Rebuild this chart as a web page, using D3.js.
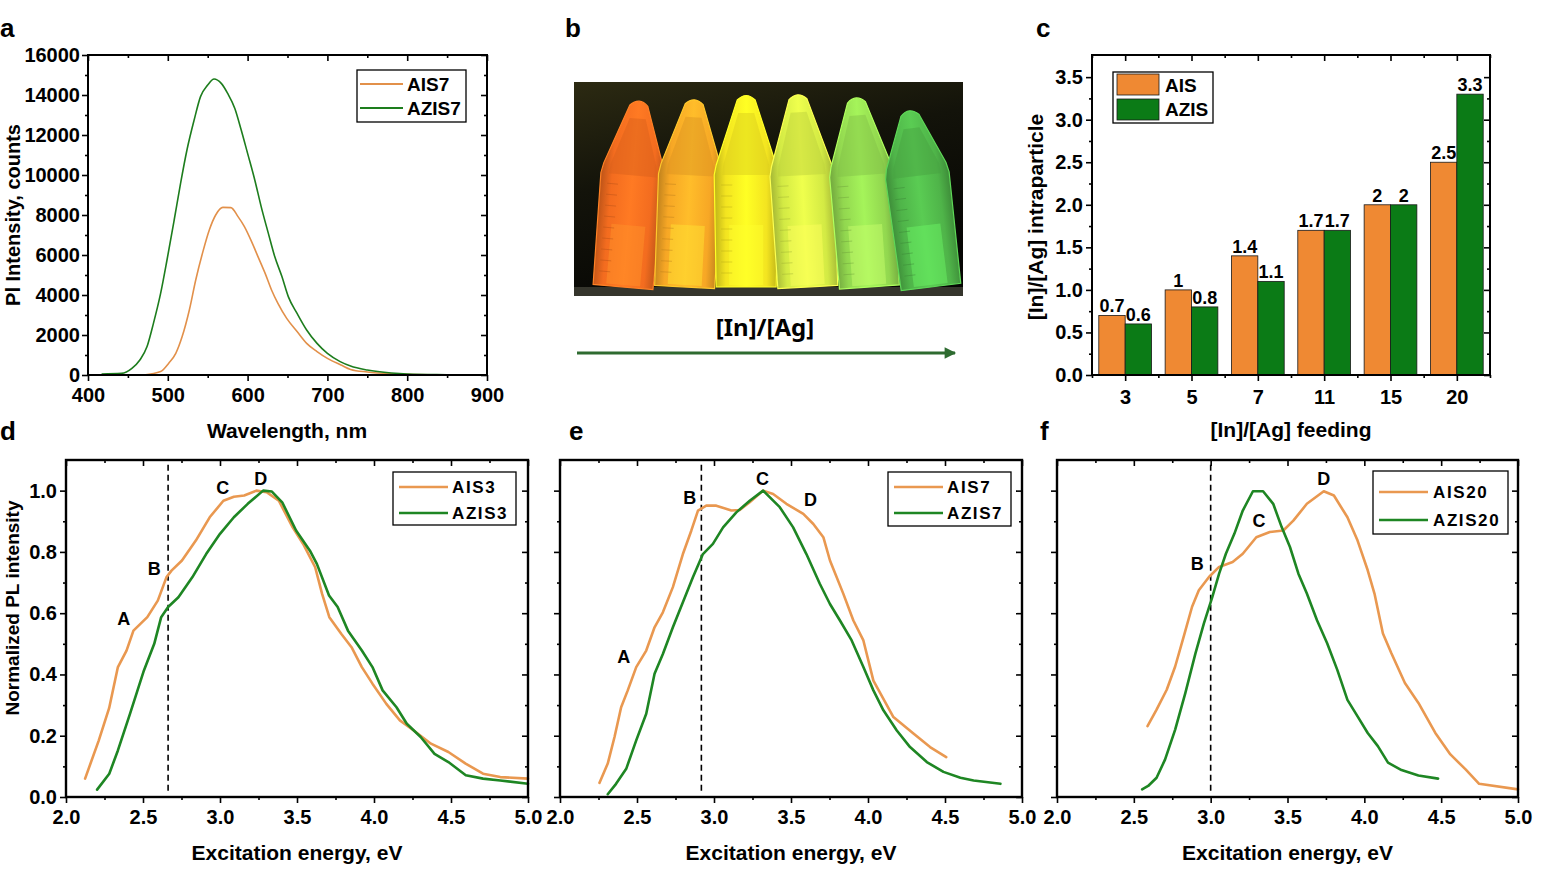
<!DOCTYPE html>
<html><head><meta charset="utf-8">
<script src="https://cdn.jsdelivr.net/npm/d3@7/dist/d3.min.js"></script>
<style>
html,body{margin:0;padding:0;background:#fff;}
svg text{font-family:"Liberation Sans",Arial,Helvetica,sans-serif;font-weight:bold;fill:#000;}
</style></head><body>
<svg id="fig" width="1559" height="878" viewBox="0 0 1559 878"></svg>
<script>
// ================= DATA =================
// (a) PL spectra, wavelength (nm) vs counts
const plWlAIS7  = [470,491,501,510,518,527,535,544,552,560,569,579,588,596,605,613,622,630,638,649,662,674,687,700,717,729,750,780,800,850,880];
const plAIS7    = [0,170,580,1080,1920,3250,4750,6170,7250,8000,8380,8370,7920,7420,6670,5920,5080,4250,3580,2830,2170,1580,1170,830,500,280,150,60,30,5,0];
const plWlAZIS7 = [417,442,455,465,474,482,491,499,508,516,524,533,541,550,558,567,575,584,592,600,609,617,626,634,643,651,662,674,687,700,716,729,750,780,800,850,880];
const plAZIS7   = [50,80,330,750,1420,2580,4080,5750,7750,9580,11250,12750,13920,14500,14800,14580,14080,13330,12250,11080,9750,8420,7080,5920,4920,3920,3080,2250,1580,1080,670,450,250,100,50,15,0];
const plXTicks = [400,500,600,700,800,900];
const plYTicks = [0,2000,4000,6000,8000,10000,12000,14000,16000];

// (b) vial photo
const vialColors = ['#F36C1F','#F7A725','#F3E420','#D3EA44','#92D74F','#4FB449'];

// (c) [In]/[Ag] intraparticle vs feeding
const feedRatios = ['3','5','7','11','15','20'];
const intraAIS   = [0.7,1,1.4,1.7,2,2.5];
const intraAZIS  = [0.6,0.8,1.1,1.7,2,3.3];
const intraYTicks = [0,0.5,1,1.5,2,2.5,3,3.5];

// (d) AIS3 / AZIS3 excitation spectra
const exD_AIS3_x  = [2.124,2.213,2.28,2.337,2.393,2.438,2.528,2.596,2.652,2.685,2.753,2.843,2.933,3.022,3.09,3.157,3.236,3.303,3.382,3.472,3.54,3.618,3.663,3.71,3.787,3.854,3.921,3.99,4.08,4.168,4.258,4.37,4.483,4.595,4.708,4.82,5.0];
const exD_AIS3_y  = [0.06,0.185,0.29,0.424,0.478,0.543,0.587,0.641,0.717,0.739,0.772,0.837,0.913,0.967,0.98,0.984,1.0,0.995,0.967,0.88,0.826,0.75,0.663,0.587,0.533,0.489,0.424,0.37,0.304,0.25,0.217,0.174,0.147,0.109,0.076,0.065,0.06];
const exD_AZIS3_x = [2.202,2.281,2.337,2.416,2.506,2.573,2.618,2.663,2.73,2.82,2.91,3.0,3.09,3.18,3.28,3.337,3.404,3.494,3.584,3.629,3.708,3.764,3.831,3.921,3.99,4.056,4.146,4.213,4.303,4.393,4.483,4.596,4.708,4.82,5.0];
const exD_AZIS3_y = [0.024,0.076,0.152,0.272,0.413,0.5,0.587,0.62,0.652,0.717,0.793,0.859,0.913,0.957,1.0,0.997,0.962,0.87,0.804,0.761,0.658,0.62,0.543,0.478,0.424,0.348,0.293,0.239,0.196,0.141,0.114,0.071,0.06,0.054,0.043];
const exD_marks = [['A',2.375,0.582],['B',2.573,0.745],['C',3.018,1.011],['D',3.265,1.038]];
const exD_dash = 2.663;

// (e) AIS7 / AZIS7
const exE_AIS7_x  = [2.256,2.31,2.354,2.397,2.44,2.495,2.56,2.614,2.668,2.733,2.798,2.853,2.896,2.95,3.015,3.113,3.167,3.232,3.319,3.384,3.47,3.58,3.645,3.71,3.753,3.84,3.905,3.97,4.035,4.165,4.295,4.403,4.508];
const exE_AIS7_y  = [0.046,0.109,0.196,0.293,0.348,0.424,0.478,0.554,0.603,0.685,0.793,0.87,0.935,0.951,0.951,0.935,0.937,0.962,1.0,0.989,0.957,0.924,0.891,0.848,0.772,0.663,0.576,0.511,0.38,0.261,0.207,0.163,0.13];
const exE_AZIS7_x = [2.31,2.364,2.43,2.495,2.56,2.614,2.668,2.733,2.798,2.863,2.928,2.993,3.059,3.145,3.232,3.319,3.427,3.514,3.6,3.687,3.753,3.818,3.894,3.97,4.035,4.1,4.187,4.273,4.382,4.49,4.6,4.686,4.86];
const exE_AZIS7_y = [0.009,0.043,0.092,0.185,0.272,0.402,0.467,0.554,0.636,0.717,0.793,0.826,0.88,0.929,0.967,1.0,0.946,0.88,0.793,0.696,0.63,0.576,0.511,0.424,0.348,0.283,0.217,0.163,0.114,0.082,0.063,0.054,0.043];
const exE_marks = [['A',2.414,0.459],['B',2.842,0.976],['C',3.315,1.038],['D',3.627,0.97]];
const exE_dash = 2.918;

// (f) AIS20 / AZIS20
const exF_AIS20_x  = [2.589,2.648,2.714,2.769,2.824,2.879,2.923,2.989,3.055,3.143,3.209,3.297,3.385,3.473,3.538,3.626,3.736,3.802,3.89,3.956,4.022,4.066,4.121,4.176,4.264,4.352,4.462,4.56,4.659,4.747,5.0];
const exF_AIS20_y  = [0.231,0.285,0.35,0.426,0.523,0.621,0.675,0.718,0.751,0.767,0.794,0.848,0.865,0.87,0.902,0.957,0.998,0.984,0.913,0.837,0.74,0.664,0.534,0.469,0.372,0.307,0.209,0.139,0.09,0.043,0.025];
const exF_AZIS20_x = [2.554,2.593,2.648,2.703,2.769,2.835,2.901,2.956,3.011,3.055,3.099,3.154,3.209,3.275,3.341,3.407,3.462,3.516,3.571,3.626,3.692,3.758,3.824,3.89,3.956,4.022,4.088,4.154,4.242,4.352,4.48];
const exF_AZIS20_y = [0.025,0.036,0.063,0.122,0.22,0.339,0.469,0.567,0.653,0.729,0.794,0.859,0.935,0.998,0.998,0.957,0.881,0.816,0.729,0.664,0.577,0.502,0.415,0.317,0.263,0.209,0.166,0.112,0.088,0.07,0.06];
const exF_marks = [['B',2.912,0.762],['C',3.314,0.902],['D',3.736,1.038]];
const exF_dash = 3.0;

const exXTicks = [2,2.5,3,3.5,4,4.5,5];
const exYTicks = [0,0.2,0.4,0.6,0.8,1.0];

// ================= DRAW =================
const svg = d3.select('#fig');
const defs = svg.append('defs');
const ORANGE_A = '#E2904A', GREEN_A = '#1D7D1D';
const ORANGE = '#E99850', GREEN = '#1E8623';
const BAR_OR = '#EF8933', BAR_GR = '#0B7B16';
const TICK_FS = 20, TITLE_FS = 21;
const zip = (xs, ys) => xs.map((v, i) => [v, ys[i]]);
const midpoints = t => t.slice(0, -1).map((v, i) => (v + t[i + 1]) / 2);

function styleAxis(g, fs) {
  g.selectAll('.domain').remove();
  g.selectAll('.tick line').attr('stroke', '#000').attr('stroke-width', 1.6);
  g.selectAll('.tick text').style('font-size', fs + 'px').attr('fill', '#000');
}

function drawFrameAxes(x, y, o) {
  const [xl, xr] = x.range(), [yb, yt] = y.range();
  const g = svg.append('g');
  const add = (tr, ax) => styleAxis(g.append('g').attr('transform', tr).call(ax), TICK_FS);
  add(`translate(0,${yb})`, d3.axisBottom(x).tickValues(o.xMajor).tickSize(6).tickPadding(7).tickFormat(o.xFmt));
  add(`translate(0,${yb})`, d3.axisBottom(x).tickValues(o.xMinor).tickSize(3).tickFormat(''));
  add(`translate(0,${yt})`, d3.axisTop(x).tickValues(o.xMajor).tickSize(-6).tickFormat(''));
  add(`translate(0,${yt})`, d3.axisTop(x).tickValues(o.xMinor).tickSize(-3).tickFormat(''));
  add(`translate(${xl},0)`, d3.axisLeft(y).tickValues(o.yMajor).tickSize(6).tickPadding(o.yPad || 3).tickFormat(o.yFmt || ''));
  add(`translate(${xl},0)`, d3.axisLeft(y).tickValues(o.yMinor).tickSize(3).tickFormat(''));
  add(`translate(${xr},0)`, d3.axisRight(y).tickValues(o.yMajor).tickSize(-6).tickFormat(''));
  add(`translate(${xr},0)`, d3.axisRight(y).tickValues(o.yMinor).tickSize(-3).tickFormat(''));
  g.append('rect').attr('x', xl).attr('y', yt).attr('width', xr - xl).attr('height', yb - yt)
    .attr('fill', 'none').attr('stroke', '#000').attr('stroke-width', o.frameW || 2.2);
  return g;
}

function legend(x0, y0, w, h, items, o) {
  const g = svg.append('g');
  g.append('rect').attr('x', x0).attr('y', y0).attr('width', w).attr('height', h)
    .attr('fill', '#fff').attr('stroke', '#000').attr('stroke-width', 1.3);
  items.forEach((it, i) => {
    const yy = o.rows[i];
    g.append('line').attr('x1', o.lx1).attr('x2', o.lx2).attr('y1', yy).attr('y2', yy)
      .attr('stroke', it.color).attr('stroke-width', o.lw);
    g.append('text').attr('x', o.tx).attr('y', yy + o.fs * 0.36).style('font-size', o.fs + 'px')
      .style('letter-spacing', (o.ls || 0) + 'px').text(it.name);
  });
}

function panelLabel(t, x, y) {
  svg.append('text').attr('x', x).attr('y', y).style('font-size', '26px').text(t);
}

// ---------- (a) ----------
{
  const x = d3.scaleLinear().domain([400, 900]).range([88, 487]);
  const y = d3.scaleLinear().domain([0, 16000]).range([375, 55]);
  const line = d3.line().x(d => x(d[0])).y(d => y(d[1])).curve(d3.curveMonotoneX);
  svg.append('path').datum(zip(plWlAIS7, plAIS7)).attr('d', line)
    .attr('fill', 'none').attr('stroke', ORANGE_A).attr('stroke-width', 1.6);
  svg.append('path').datum(zip(plWlAZIS7, plAZIS7)).attr('d', line)
    .attr('fill', 'none').attr('stroke', GREEN_A).attr('stroke-width', 1.6);
  drawFrameAxes(x, y, {
    xMajor: plXTicks, xMinor: midpoints(plXTicks), xFmt: d3.format('d'),
    yMajor: plYTicks, yMinor: midpoints(plYTicks), yFmt: d3.format('d'), yPad: 2, frameW: 2
  });
  legend(357, 70, 109, 52, [{name: 'AIS7', color: ORANGE_A}, {name: 'AZIS7', color: GREEN_A}],
    {rows: [84, 108], lx1: 360, lx2: 403, tx: 407, fs: 19, lw: 1.8});
  svg.append('text').attr('x', 287).attr('y', 438).attr('text-anchor', 'middle').style('font-size', TITLE_FS + 'px').text('Wavelength, nm');
  svg.append('text').attr('transform', 'translate(20,215) rotate(-90)').attr('text-anchor', 'middle').style('font-size', '20px').text('Pl Intensity, counts');
  panelLabel('a', 0, 37);
}

// ---------- (b) photo ----------
{
  const px0 = 574, px1 = 963, py0 = 82, py1 = 296, shelf = 287;
  const bg = defs.append('linearGradient').attr('id', 'photoBg').attr('x1', 0).attr('y1', 0).attr('x2', 0.4).attr('y2', 1);
  bg.append('stop').attr('offset', 0).attr('stop-color', '#2c2a12');
  bg.append('stop').attr('offset', 0.45).attr('stop-color', '#13130a');
  bg.append('stop').attr('offset', 1).attr('stop-color', '#060604');
  defs.append('clipPath').attr('id', 'photoClip').append('rect')
    .attr('x', px0).attr('y', py0).attr('width', px1 - px0).attr('height', py1 - py0);
  const photo = svg.append('g').attr('clip-path', 'url(#photoClip)');
  photo.append('rect').attr('x', px0).attr('y', py0).attr('width', px1 - px0).attr('height', py1 - py0).attr('fill', 'url(#photoBg)');
  photo.append('rect').attr('x', px0).attr('y', shelf).attr('width', px1 - px0).attr('height', py1 - shelf).attr('fill', '#35352c');
  const vx = d3.scalePoint().domain(d3.range(vialColors.length)).range([623, 931]);
  const tilt = [5, 3, 0, -3, -4, -7];
  const hts = [189, 190, 194, 195, 192, 180];
  vialColors.forEach((c, i) => {
    const gid = 'vial' + i;
    const gr = defs.append('linearGradient').attr('id', gid).attr('x1', 0).attr('x2', 1).attr('y1', 0).attr('y2', 0);
    const col = d3.color(c);
    [[0, col.darker(0.7)], [0.18, col], [0.5, col.brighter(0.35)], [0.82, col], [1, col.darker(0.7)]]
      .forEach(([o, s]) => gr.append('stop').attr('offset', o).attr('stop-color', s.formatHex()));
    const h = hts[i];
    const g = photo.append('g').attr('transform', `translate(${vx(i)},${shelf}) rotate(${tilt[i]})`);
    const p = `M-30,0 L-32,-112 L-30,-122 L-9,${-(h - 7)} Q0,${-(h + 2)} 9,${-(h - 7)} L30,-122 L32,-112 L30,0 Z`;
    g.append('path').attr('d', p).attr('fill', `url(#${gid})`).attr('stroke', col.brighter(0.5).formatHex()).attr('stroke-width', 1.2);
    g.append('path').attr('d', `M-24,-112 L-23,-122 L-8,${-(h - 20)} L8,${-(h - 20)} L23,-122 L24,-112 Z`)
      .attr('fill', col.darker(0.35).formatHex()).attr('opacity', 0.45);
    g.append('rect').attr('x', -17).attr('y', -62).attr('width', 34).attr('height', 60)
      .attr('fill', col.brighter(0.9).formatHex()).attr('opacity', 0.45);
    d3.range(9).forEach(k => {
      g.append('line').attr('x1', -25).attr('x2', -14).attr('y1', -14 - k * 11).attr('y2', -14 - k * 11)
        .attr('stroke', col.darker(0.8).formatHex()).attr('stroke-width', 0.8).attr('opacity', 0.55);
    });
  });
  defs.append('marker').attr('id', 'arrowHead').attr('viewBox', '0 0 10 10').attr('refX', 9).attr('refY', 5)
    .attr('markerWidth', 4).attr('markerHeight', 3.6).attr('markerUnits', 'strokeWidth').attr('orient', 'auto')
    .append('path').attr('d', 'M0,0 L10,5 L0,10 Z').attr('fill', '#2E6B30');
  svg.append('line').attr('x1', 577).attr('x2', 955).attr('y1', 353).attr('y2', 353)
    .attr('stroke', '#2E6B30').attr('stroke-width', 3.2).attr('marker-end', 'url(#arrowHead)');
  svg.append('text').attr('x', 765).attr('y', 336).attr('text-anchor', 'middle')
    .style('font-family', '"Noto Sans", "Open Sans", sans-serif').style('font-weight', '700').style('font-size', '24px').text('[In]/[Ag]');
  panelLabel('b', 565, 37);
}

// ---------- (c) bars ----------
{
  const x = d3.scaleBand().domain(feedRatios).range([1092, 1490]).padding(0);
  const y = d3.scaleLinear().domain([0, 3.76]).range([375, 55]);
  const bw = x.bandwidth(), gw = bw * 0.795, barW = gw / 2;
  const series = [{vals: intraAIS, color: BAR_OR, off: 0}, {vals: intraAZIS, color: BAR_GR, off: 1}];
  series.forEach(s => {
    svg.append('g').selectAll('rect').data(feedRatios).join('rect')
      .attr('x', (d) => x(d) + (bw - gw) / 2 + s.off * barW)
      .attr('y', (d, i) => y(s.vals[i])).attr('width', barW)
      .attr('height', (d, i) => y(0) - y(s.vals[i]))
      .attr('fill', s.color).attr('stroke', '#1a1a1a').attr('stroke-width', 0.8);
    svg.append('g').selectAll('text').data(feedRatios).join('text')
      .attr('x', d => x(d) + (bw - gw) / 2 + s.off * barW + barW / 2)
      .attr('y', (d, i) => y(s.vals[i]) - 3).attr('text-anchor', 'middle').style('font-size', '18px')
      .text((d, i) => String(s.vals[i]));
  });
  const g = svg.append('g');
  const centers = d3.scalePoint().domain(feedRatios).range([x(feedRatios[0]) + bw / 2, x(feedRatios[5]) + bw / 2]);
  const bounds = d3.range(feedRatios.length + 1).map(i => 1092 + i * bw);
  const add = (tr, ax) => styleAxis(g.append('g').attr('transform', tr).call(ax), TICK_FS);
  add('translate(0,375)', d3.axisBottom(centers).tickSize(6).tickPadding(9));
  const lin = d3.scaleLinear().domain([1092, 1490]).range([1092, 1490]);
  add('translate(0,375)', d3.axisBottom(lin).tickValues(bounds).tickSize(3).tickFormat(''));
  add('translate(0,55)', d3.axisTop(centers).tickSize(-6).tickFormat(''));
  add('translate(0,55)', d3.axisTop(lin).tickValues(bounds).tickSize(-3).tickFormat(''));
  add('translate(1092,0)', d3.axisLeft(y).tickValues(intraYTicks).tickSize(6).tickPadding(3).tickFormat(d3.format('.1f')));
  add('translate(1092,0)', d3.axisLeft(y).tickValues(midpoints(intraYTicks)).tickSize(3).tickFormat(''));
  add('translate(1490,0)', d3.axisRight(y).tickValues(intraYTicks).tickSize(-6).tickFormat(''));
  add('translate(1490,0)', d3.axisRight(y).tickValues(midpoints(intraYTicks)).tickSize(-3).tickFormat(''));
  g.append('rect').attr('x', 1092).attr('y', 55).attr('width', 398).attr('height', 320)
    .attr('fill', 'none').attr('stroke', '#000').attr('stroke-width', 2);
  // legend
  const lg = svg.append('g');
  lg.append('rect').attr('x', 1113).attr('y', 72).attr('width', 100).attr('height', 51)
    .attr('fill', '#fff').attr('stroke', '#000').attr('stroke-width', 1.3);
  [['AIS', BAR_OR, 74, 92], ['AZIS', BAR_GR, 99, 116]].forEach(([n, c, ry, ty]) => {
    lg.append('rect').attr('x', 1117).attr('y', ry).attr('width', 42).attr('height', 21)
      .attr('fill', c).attr('stroke', '#1a1a1a').attr('stroke-width', 0.8);
    lg.append('text').attr('x', 1165).attr('y', ty).style('font-size', '19px').text(n);
  });
  svg.append('text').attr('x', 1291).attr('y', 437).attr('text-anchor', 'middle').style('font-size', TITLE_FS + 'px').text('[In]/[Ag] feeding');
  svg.append('text').attr('transform', 'translate(1043,217) rotate(-90)').attr('text-anchor', 'middle').style('font-size', TITLE_FS + 'px').text('[In]/[Ag] intraparticle');
  panelLabel('c', 1036, 37);
}

// ---------- (d)(e)(f) ----------
function exPanel(p) {
  const x = d3.scaleLinear().domain([2, 5]).range([p.x0, p.x1]);
  const y = d3.scaleLinear().domain([0, 1.1]).range([797, 460]);
  const line = d3.line().x(d => x(d[0])).y(d => y(d[1])).curve(d3.curveLinear);
  svg.append('line').attr('x1', x(p.dash)).attr('x2', x(p.dash)).attr('y1', y(0.02)).attr('y2', y(1.095))
    .attr('stroke', '#000').attr('stroke-width', 1.6).attr('stroke-dasharray', '6,4');
  p.series.forEach(s => {
    svg.append('path').datum(s.data).attr('d', line).attr('fill', 'none')
      .attr('stroke', s.color).attr('stroke-width', 2.6).attr('stroke-linejoin', 'round').attr('stroke-linecap', 'round');
  });
  p.marks.forEach(([t, mx, my]) => {
    svg.append('text').attr('x', x(mx)).attr('y', y(my)).attr('dy', '0.36em').attr('text-anchor', 'middle')
      .style('font-size', '18px').text(t);
  });
  drawFrameAxes(x, y, {
    xMajor: exXTicks, xMinor: midpoints(exXTicks), xFmt: d3.format('.1f'),
    yMajor: exYTicks, yMinor: midpoints(exYTicks), yFmt: p.yLabels ? d3.format('.1f') : '', frameW: 2.4
  });
  legend(p.lg[0], p.lg[1], p.lg[2], p.lg[3], p.series,
    {rows: p.lg[4], lx1: p.lg[5], lx2: p.lg[6], tx: p.lg[7], fs: 17, lw: 2.6, ls: 1.6});
  svg.append('text').attr('x', (p.x0 + p.x1) / 2).attr('y', 860).attr('text-anchor', 'middle')
    .style('font-size', TITLE_FS + 'px').text('Excitation energy, eV');
}

exPanel({x0: 66, x1: 528, dash: exD_dash, marks: exD_marks, yLabels: true,
  series: [{name: 'AIS3', color: ORANGE, data: zip(exD_AIS3_x, exD_AIS3_y)},
           {name: 'AZIS3', color: GREEN, data: zip(exD_AZIS3_x, exD_AZIS3_y)}],
  lg: [393, 472, 123, 53, [487, 513], 399, 448, 452]});
exPanel({x0: 560, x1: 1022, dash: exE_dash, marks: exE_marks, yLabels: false,
  series: [{name: 'AIS7', color: ORANGE, data: zip(exE_AIS7_x, exE_AIS7_y)},
           {name: 'AZIS7', color: GREEN, data: zip(exE_AZIS7_x, exE_AZIS7_y)}],
  lg: [888, 472, 123, 54, [487, 513], 894, 943, 947]});
exPanel({x0: 1057, x1: 1518, dash: exF_dash, marks: exF_marks, yLabels: false,
  series: [{name: 'AIS20', color: ORANGE, data: zip(exF_AIS20_x, exF_AIS20_y)},
           {name: 'AZIS20', color: GREEN, data: zip(exF_AZIS20_x, exF_AZIS20_y)}],
  lg: [1373, 471, 135, 63, [492, 520], 1379, 1428, 1433]});

svg.append('text').attr('transform', 'translate(19,608) rotate(-90)').attr('text-anchor', 'middle')
  .style('font-size', '19px').text('Normalized PL intensity');
panelLabel('d', 0, 440);
panelLabel('e', 569, 440);
panelLabel('f', 1040, 440);
</script>
</body></html>
